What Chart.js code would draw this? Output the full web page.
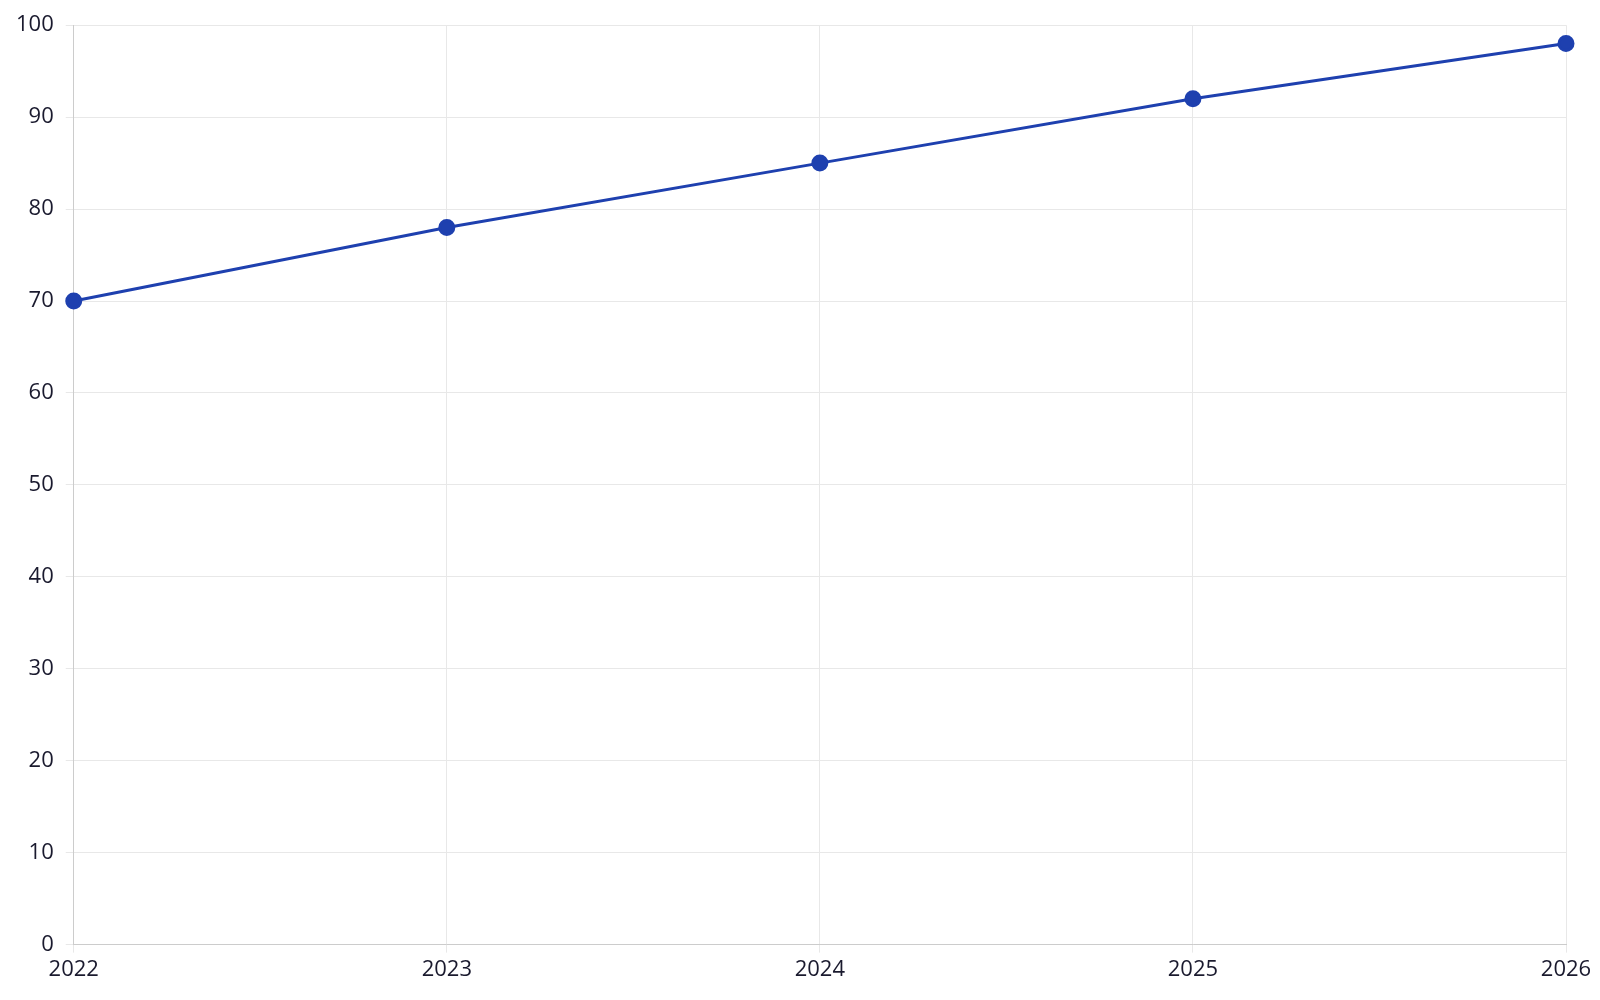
<!DOCTYPE html>
<html><head><meta charset="utf-8">
<script src="https://cdn.jsdelivr.net/npm/chart.js@4"></script>
<style>html,body{margin:0;padding:0;background:#fff}#w{width:1600px;height:1000px}</style>
</head><body><div id="w"><canvas id="c"></canvas></div>
<script>
const categories = ["2022","2023","2024","2025","2026"];
const values = [70,78,85,92,98];
const yTicks = [0,10,20,30,40,50,60,70,80,90,100];
new Chart(document.getElementById('c'), {
  type: 'line',
  data: { labels: categories, datasets: [{ data: values, borderColor: '#1e40af', backgroundColor: '#1e40af', borderWidth: 3, pointRadius: 7, pointHoverRadius: 7, tension: 0 }] },
  options: {
    responsive: true, maintainAspectRatio: false, animation: false,
    layout: { padding: { top: 19, right: 34, left: 4, bottom: 13 } },
    plugins: { legend: { display: false }, tooltip: { enabled: false } },
    scales: {
      x: { offset: false, grid: { color: '#e8e8e8', drawTicks: true, tickLength: 8 }, border: { color: '#cccccc' },
           ticks: { color: '#1a1a2e', font: { family: 'Open Sans', size: 22 }, maxRotation: 0, padding: 4 } },
      y: { min: 0, max: 100, afterBuildTicks: ax => { ax.ticks = yTicks.map(v => ({ value: v })); },
           grid: { color: '#e8e8e8', tickLength: 8 }, border: { color: '#cccccc' },
           ticks: { color: '#1a1a2e', font: { family: 'Open Sans', size: 22 }, padding: 12 } }
    }
  }
});
</script></body></html>
